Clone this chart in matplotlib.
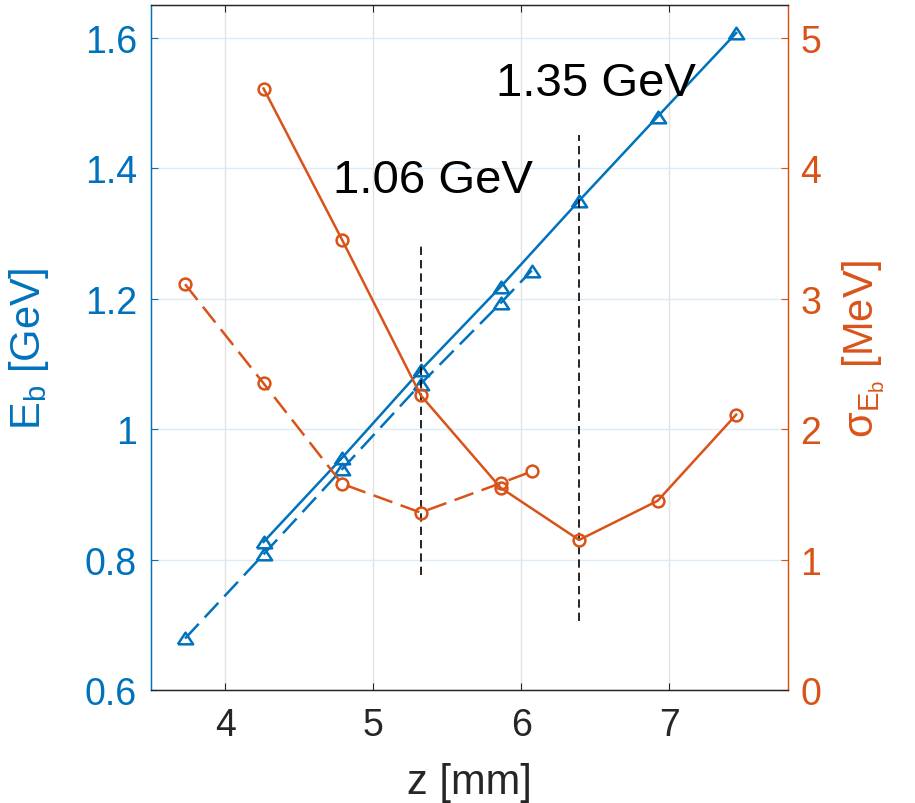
import matplotlib
matplotlib.use("Agg")
import matplotlib.pyplot as plt

plt.rcParams['font.family'] = ['Liberation Sans', 'DejaVu Sans']
plt.rcParams['mathtext.fontset'] = 'custom'
plt.rcParams['mathtext.rm'] = 'Liberation Sans'
plt.rcParams['mathtext.it'] = 'Liberation Sans:italic'
plt.rcParams['mathtext.sf'] = 'Liberation Sans'

BLUE = '#0072BD'
ORANGE = '#D95319'
DARK = '#262626'

# ---- data ----
z_solid = [4.26, 4.79, 5.32, 5.86, 6.39, 6.92, 7.45]
Eb_solid = [0.827, 0.956, 1.090, 1.218, 1.350, 1.479, 1.607]
sigma_solid = [4.61, 3.45, 2.26, 1.55, 1.15, 1.45, 2.11]

z_dashed = [3.73, 4.26, 4.79, 5.32, 5.86, 6.07]
Eb_dashed = [0.679, 0.808, 0.9385, 1.069, 1.193, 1.243]
sigma_dashed = [3.11, 2.35, 1.58, 1.36, 1.585, 1.675]

vline_z = [5.32, 6.39]
vline_lo = [0.776, 0.706]
vline_hi = [1.282, 1.450]

labels = ['1.06 GeV', '1.35 GeV']
label_z = [4.728, 5.829]
label_E = [1.3638, 1.5115]

xticks = [4, 5, 6, 7]
yticks_left = [0.6, 0.8, 1.0, 1.2, 1.4, 1.6]
yticks_left_lbl = ['0.6', '0.8', '1', '1.2', '1.4', '1.6']
yticks_right = [0, 1, 2, 3, 4, 5]

fig = plt.figure(figsize=(9.15, 8.04), dpi=100)
ax = fig.add_axes([151/915, 113/804, 637/915, 685/804])
ax2 = ax.twinx()

lw = 1.8
dash = (0, (8, 3.5))
tri = [(-1, -0.76), (1, -0.76), (0, 0.76), (-1, -0.76)]

ax.plot(z_solid, Eb_solid, '-', color=BLUE, lw=lw, marker=tri, ms=11,
        mfc='none', mec=BLUE, mew=lw, zorder=3)
ax.plot(z_dashed, Eb_dashed, linestyle=dash, color=BLUE, lw=lw, marker=tri, ms=11,
        mfc='none', mec=BLUE, mew=lw, zorder=3)

for zx, lo, hi in zip(vline_z, vline_lo, vline_hi):
    ax.plot([zx, zx], [lo, hi], color='k', lw=1.2, linestyle=(0, (5, 3)), zorder=4)

for t, zx, e in zip(labels, label_z, label_E):
    ax.text(zx, e, t, fontsize=34, color='k', ha='left', va='baseline', zorder=5)

ax2.plot(z_solid, sigma_solid, '-', color=ORANGE, lw=lw, marker='o', ms=8.5,
         mfc='none', mec=ORANGE, mew=lw)
ax2.plot(z_dashed, sigma_dashed, linestyle=dash, color=ORANGE, lw=lw, marker='o', ms=8.5,
         mfc='none', mec=ORANGE, mew=lw)

ax.set_xlim(3.5, 7.8)
ax.set_ylim(0.6, 1.65)
ax2.set_ylim(0, 5.25)

ax.set_xticks(xticks)
ax.set_xticklabels([str(v) for v in xticks])
ax.set_yticks(yticks_left)
ax.set_yticklabels(yticks_left_lbl)
ax2.set_yticks(yticks_right)
ax2.set_yticklabels([str(v) for v in yticks_right])

# grid
for xv in xticks:
    ax.axvline(xv, color='#e3e3e3', lw=1.0, zorder=0)
for yv in yticks_left:
    ax.axhline(yv, color='#dcebf6', lw=1.0, zorder=0)

ax.tick_params(axis='x', direction='in', length=5, width=0.8, colors=DARK,
               labelsize=27, pad=12, top=True)
ax.tick_params(axis='y', direction='in', length=5, width=0.8, colors=BLUE,
               labelsize=27, pad=10, right=False)
ax2.tick_params(axis='y', direction='in', length=5, width=0.8, colors=ORANGE,
                labelsize=27, pad=9)

for a in (ax, ax2):
    a.spines['bottom'].set_color(DARK)
    a.spines['top'].set_color(DARK)
    a.spines['left'].set_color(BLUE)
    a.spines['right'].set_color(ORANGE)
    for s in a.spines.values():
        s.set_linewidth(0.9)

ax.set_xlabel('z [mm]', fontsize=30, color=DARK, labelpad=14)
ax.set_ylabel(r'$\mathregular{E_b}$ [GeV]', fontsize=30, color=BLUE)
ax2.set_ylabel(r'$\mathregular{σ_{E_b}}$ [MeV]', fontsize=30, color=ORANGE,
               rotation=90)
ax.yaxis.set_label_coords(-0.157, 0.5)
ax2.yaxis.set_label_coords(1.0816, 0.5)

fig.savefig('out.png', dpi=100)
